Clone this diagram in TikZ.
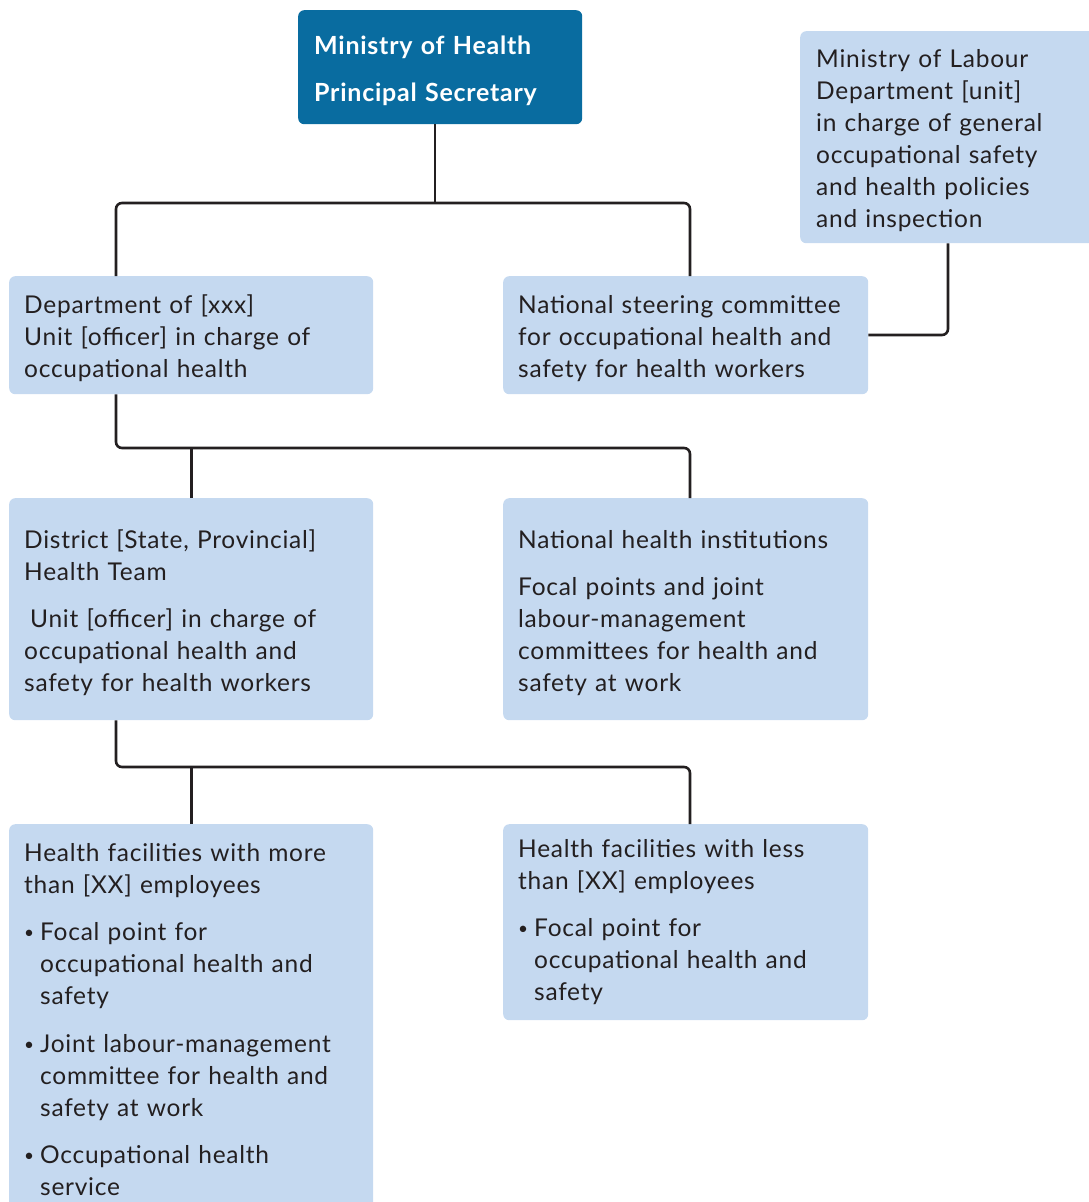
\documentclass[tikz,border=0pt]{standalone}
\usepackage{fontspec}
\setmainfont[LetterSpace=3]{Lato}
\usepackage{tikz}
\usetikzlibrary{positioning, calc}
\definecolor{mhblue}{RGB}{9,108,160}
\definecolor{boxblue}{RGB}{197,217,240}
\definecolor{ink}{RGB}{35,31,32}
\tikzset{box/.style = {
  rectangle, rounded corners=6pt,
  fill=boxblue, text=ink,
  anchor=north west, align=left,
  inner xsep=15pt, inner ysep=0pt,
  font=\fontsize{24.5}{32}\selectfont
  }}
\tikzset{head/.style = {
  box, fill=mhblue, text=white,
  inner xsep=16pt,
  font=\bfseries\fontsize{25}{32}\selectfont
  }}
\tikzset{link/.style = {draw=ink, line width=2.6pt, rounded corners=6pt}}
\newcommand{\bul}{\makebox[16pt][l]{\raisebox{2pt}{\scalebox{0.7}{\textbullet}}}}
\newcommand{\ind}{\hspace*{16pt}}
\newcommand{\lift}{\rule{0pt}{25.5pt}}

\begin{document}
\begin{tikzpicture}[x=1pt, y=-1pt]

\useasboundingbox (0,0) rectangle (1089,1202);
\clip (0,0) rectangle (1089,1202);

	% Boxes
    \node (mh) [head, text width=252pt, minimum height=114pt] at (298,10)
      {\rule{0pt}{26pt}Ministry of Health\\[15pt]Principal Secretary};
    \node (labour) [box, inner xsep=16pt, text width=268pt, minimum height=212pt] at (800,31)
      {\lift Ministry of Labour\\Department [unit]\\in charge of general\\occupational safety\\and health policies\\and inspection};
    \node (dept) [box, text width=334pt, minimum height=118pt] at (9,276)
      {\lift Department of [xxx]\\Unit [officer] in charge of\\occupational health};
    \node (steer) [box, text width=335pt, minimum height=118pt] at (503,276)
      {\lift National steering committee\\for occupational health and\\safety for health workers};
    \node (district) [box, text width=334pt, minimum height=222pt] at (9,498)
      {\lift District [State, Provincial]\\Health Team\\[15pt]\hspace*{6pt}Unit [officer] in charge of\\occupational health and\\safety for health workers};
    \node (nhi) [box, text width=335pt, minimum height=222pt] at (503,498)
      {\lift National health institutions\\[15pt]Focal points and joint\\labour-management\\committees for health and\\safety at work};
    \node (hfmore) [box, text width=334pt, minimum height=390pt] at (9,824)
      {Health facilities with more\\than [XX] employees\\[15pt]\bul Focal point for\\\ind occupational health and\\\ind safety\\[16pt]\bul Joint labour-management\\\ind committee for health and\\\ind safety at work\\[15pt]\bul Occupational health\\\ind service};
    \node (hfless) [box, text width=335pt, minimum height=196pt] at (503,824)
      {Health facilities with less\\than [XX] employees\\[15pt]\bul Focal point for\\\ind occupational health and\\\ind safety};

	% Connectors
    \coordinate (b0) at (435,203);
    \coordinate (b1) at (116,203);
    \coordinate (b2) at (690,203);
    \coordinate (b3) at (948,335);
    \coordinate (b4) at (116,448);
    \coordinate (b5) at (690,448);
    \coordinate (b6) at (116,767);
    \coordinate (b7) at (690,767);
    \draw [link] (mh.south -| b0) -- (b0);
    \draw [link] (dept.north -| b1) -- (b1) -- (b2) -- (steer.north -| b2);
    \draw [link] (labour.south -| b3) -- (b3) -- (steer.east |- b3);
    \draw [link] (dept.south -| b4) -- (b4) -- (b5) -- (nhi.north -| b5);
    \draw [link] (district.north) -- (district.north |- b4);
    \draw [link] (district.south -| b6) -- (b6) -- (b7) -- (hfless.north -| b7);
    \draw [link] (hfmore.north) -- (hfmore.north |- b6);

\end{tikzpicture}
\end{document}
